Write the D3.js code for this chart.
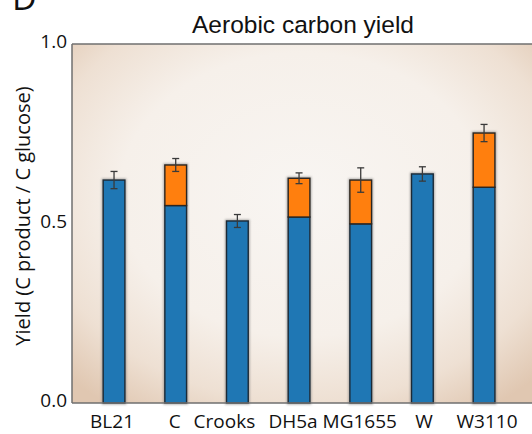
<!DOCTYPE html>
<html>
<head>
<meta charset="utf-8">
<script src="https://cdn.jsdelivr.net/npm/d3@7"></script>
<style>
  html, body { margin: 0; padding: 0; background: #fff; }
  svg { display: block; }
</style>
</head>
<body>
<svg id="chart" width="532" height="434"></svg>
<script>
// Aerobic carbon yield per E. coli strain
const categories = ["BL21", "C", "Crooks", "DH5a", "MG1655", "W", "W3110"];
const baseYield  = [0.621, 0.550, 0.507, 0.518, 0.499, 0.638, 0.601];
const extraYield = [0.000, 0.113, 0.000, 0.108, 0.122, 0.000, 0.151];
const errors     = [0.024, 0.018, 0.018, 0.015, 0.034, 0.020, 0.024];
const yTicks     = [0.0, 0.5, 1.0];

const svg = d3.select("#chart");
const plot = { left: 72, right: 532, top: 44, bottom: 403 };
const font = "Open Sans, sans-serif";

const x = d3.scaleBand()
  .domain(categories)
  .range([83.2, 514.9])
  .paddingInner(0.648)
  .paddingOuter(0.324);

const y = d3.scaleLinear().domain([0, 1]).range([plot.bottom, plot.top]);

// Background shading of the plot area
const defs = svg.append("defs");
const grad = defs.append("radialGradient")
  .attr("id", "bg").attr("cx", "50%").attr("cy", "42%").attr("r", "72%");
grad.append("stop").attr("offset", "0%").attr("stop-color", "#f8f5f2");
grad.append("stop").attr("offset", "55%").attr("stop-color", "#f6f0ea");
grad.append("stop").attr("offset", "80%").attr("stop-color", "#eee0d3");
grad.append("stop").attr("offset", "100%").attr("stop-color", "#e0c7b1");

const blur = defs.append("filter").attr("id", "soft")
  .attr("x", "-20%").attr("y", "-20%").attr("width", "140%").attr("height", "140%");
blur.append("feGaussianBlur").attr("stdDeviation", 0.8);

svg.append("rect")
  .attr("x", plot.left).attr("y", plot.top)
  .attr("width", plot.right - plot.left).attr("height", plot.bottom - plot.top)
  .attr("fill", "url(#bg)");

// Panel letter
svg.append("text")
  .attr("x", 12).attr("y", 10)
  .attr("font-family", font)
  .attr("font-size", 34).attr("fill", "#111")
  .text("D");

// Title
svg.append("text")
  .attr("x", 303).attr("y", 33)
  .attr("text-anchor", "middle")
  .attr("font-family", "Liberation Sans, Arial, sans-serif")
  .attr("font-size", 24.5).attr("fill", "#111")
  .text("Aerobic carbon yield");

const data = categories.map((c, i) => ({
  cat: c, base: baseYield[i], extra: extraYield[i], err: errors[i],
  total: baseYield[i] + extraYield[i]
}));

const bars = svg.append("g");

// soft grey halo around bar outlines
bars.selectAll("rect.halo")
  .data(data).join("rect")
  .attr("class", "halo")
  .attr("x", d => x(d.cat)).attr("width", x.bandwidth())
  .attr("y", d => y(d.total)).attr("height", d => y(0) - y(d.total))
  .attr("fill", "none").attr("stroke", "#777").attr("stroke-width", 3)
  .attr("opacity", 0.6).attr("filter", "url(#soft)");

bars.selectAll("rect.base")
  .data(data).join("rect")
  .attr("class", "base")
  .attr("x", d => x(d.cat)).attr("width", x.bandwidth())
  .attr("y", d => y(d.base)).attr("height", d => y(0) - y(d.base))
  .attr("fill", "#1f77b4").attr("stroke", "#1c2a36").attr("stroke-width", 1.4);

bars.selectAll("rect.extra")
  .data(data.filter(d => d.extra > 0)).join("rect")
  .attr("class", "extra")
  .attr("x", d => x(d.cat)).attr("width", x.bandwidth())
  .attr("y", d => y(d.total)).attr("height", d => y(d.base) - y(d.total))
  .attr("fill", "#ff7f0e").attr("stroke", "#2a2520").attr("stroke-width", 1.4);

// Error bars
const eb = svg.append("g").attr("stroke", "#3a3a3a").attr("stroke-width", 1.3).attr("fill", "none");
data.forEach(d => {
  const cx = x(d.cat) + x.bandwidth() / 2;
  const y1 = y(d.total + d.err), y2 = y(d.total - d.err);
  eb.append("line").attr("x1", cx).attr("x2", cx).attr("y1", y1).attr("y2", y2);
  eb.append("line").attr("x1", cx - 3.5).attr("x2", cx + 3.5).attr("y1", y1).attr("y2", y1);
  eb.append("line").attr("x1", cx - 3.5).attr("x2", cx + 3.5).attr("y1", y2).attr("y2", y2);
});

// Frame: left, bottom and top edges
const frame = svg.append("g").attr("stroke", "#6f6f6f").attr("stroke-width", 1.5);
frame.append("line").attr("x1", plot.left).attr("x2", plot.left).attr("y1", plot.top).attr("y2", plot.bottom);
frame.append("line").attr("x1", plot.left).attr("x2", plot.right).attr("y1", plot.bottom).attr("y2", plot.bottom);
frame.append("line").attr("x1", plot.left).attr("x2", plot.right).attr("y1", plot.top).attr("y2", plot.top);

// Axes
const yAxis = svg.append("g")
  .attr("transform", `translate(${plot.left},0)`)
  .call(d3.axisLeft(y).tickValues(yTicks).tickFormat(d3.format(".1f")).tickSize(0).tickPadding(5));
yAxis.select(".domain").remove();
yAxis.selectAll("text")
  .attr("font-family", font).attr("font-size", 19).attr("fill", "#111")
  .attr("dy", "0.2em");

// small nudges so the strain names sit like the hand-set labels
const labelShift = { "BL21": -2, "C": -1, "Crooks": -13, "DH5a": -6, "MG1655": -1, "W": 1.5, "W3110": 3 };
const xAxis = svg.append("g")
  .attr("transform", `translate(0,${plot.bottom})`)
  .call(d3.axisBottom(x).tickSize(0).tickPadding(12));
xAxis.select(".domain").remove();
xAxis.selectAll("text")
  .attr("font-family", font).attr("font-size", 19).attr("fill", "#111")
  .attr("dx", d => labelShift[d] || 0);

// Y axis label
svg.append("text")
  .attr("transform", "translate(30,216) rotate(-90)")
  .attr("text-anchor", "middle")
  .attr("font-family", font)
  .attr("font-size", 20).attr("fill", "#111")
  .text("Yield (C product / C glucose)");
</script>
</body>
</html>
